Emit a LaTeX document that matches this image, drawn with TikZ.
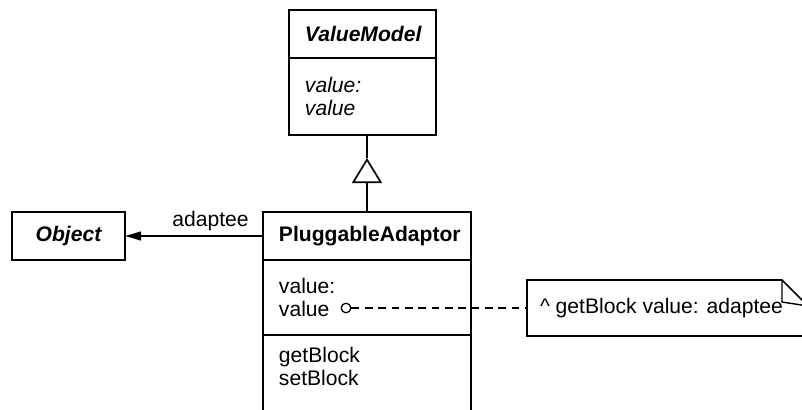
\documentclass[tikz,border=0pt]{standalone}
\usepackage{fontspec}
\setmainfont{Liberation Sans}
\usetikzlibrary{arrows.meta, positioning}

\tikzset{
  umlpart/.style={draw, line width=1.2pt, inner xsep=0.4cm, inner ysep=0pt, outer sep=0pt, align=left},
  vmpart/.style={umlpart, text width=2.875cm},
  papart/.style={umlpart, text width=4.4cm},
}

\begin{document}
\begin{tikzpicture}[x=0.025cm, y=-0.025cm, line width=1.2pt,
                    every node/.style={font=\fontsize{15}{16.5}\selectfont}]
                    \useasboundingbox (0,0) rectangle (802,409);
                    % ValueModel
                    \node[vmpart, anchor=north, align=center, minimum height=1.2cm](vmname) at (362.5,10){\bfseries\itshape ValueModel};
                    \node[vmpart, minimum height=1.925cm, below=0pt of vmname](vmattr){\itshape value:\\ \itshape value};
                    % PluggableAdaptor
                    \node[papart, anchor=north, align=center, minimum height=1.2cm](paname) at (367,212){\bfseries PluggableAdaptor};
                    \node[papart, minimum height=1.875cm, below=0pt of paname](paattr){value:\\ value};
                    \node[papart, inner ysep=0.3cm, text depth=1.2cm, below=0pt of paattr](paops){getBlock\\ setBlock};
                    % Object
                    \node[draw, minimum width=2.825cm, minimum height=1.2cm, inner sep=0pt, outer sep=0pt](obj) at (68.5,236){\bfseries\itshape Object};
                    % note
                    \node[anchor=west, minimum height=1.4cm, inner xsep=0.325cm, inner ysep=0pt, outer sep=0pt](note) at (527,308){\textasciicircum\ getBlock value: adaptee};
                    \draw (note.north west) -- (782,280) -- (808,306) -- (808,336) -- (note.south west) -- cycle;
                    \draw[line width=1pt] (782,280) -- (782,302) -- (808,306);
                    % connectors
                    \coordinate(apex) at (367,158);
                    \draw[-{Triangle[open, length=0.625cm, width=0.75cm]}] (paname.north) -- (apex);
                    \draw (apex) -- (apex |- vmattr.south);
                    \draw[-{Triangle[length=0.4cm, width=0.22cm]}] (paname.west) -- node[above, pos=0.38]{adaptee} (obj.east);
                    \node[circle, draw, line width=0.9pt, minimum size=0.24cm, inner sep=0pt](hook) at (346,308){};
                    \draw[line width=1pt, dash pattern=on 5.5pt off 4pt] (hook) -- (note.west);
                \end{tikzpicture}
\end{document}
